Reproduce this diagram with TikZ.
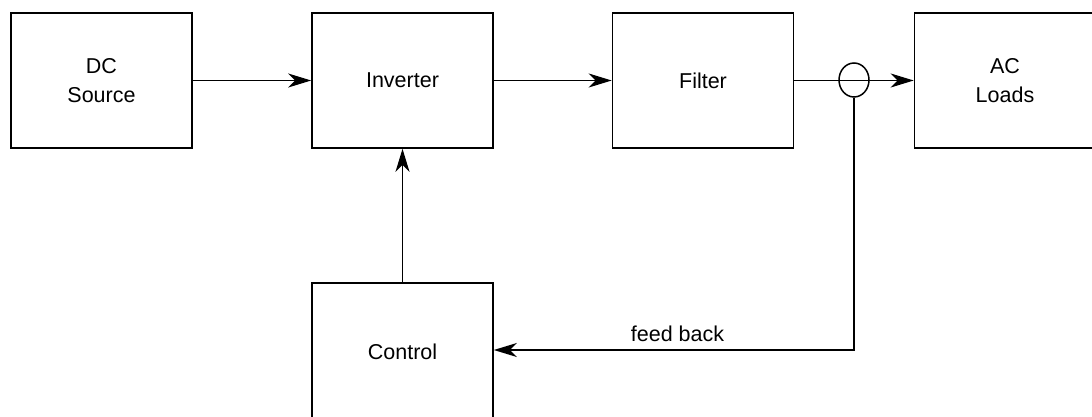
\documentclass[tikz,border=0pt]{standalone}
\usepackage{fontspec}
\setmainfont{Liberation Sans}
\usetikzlibrary{arrows.meta,shapes.geometric}
\begin{document}
\begin{tikzpicture}[x=1pt,y=-1pt,
  blk/.style={draw,line width=1.6pt,minimum width=181pt,minimum height=135pt,inner sep=0pt,align=center,font=\fontsize{21.5}{29}\selectfont},
  conn/.style={line width=1.5pt,-{Stealth[length=23pt,width=14pt,inset=7pt]}}]
\useasboundingbox (0,0) rectangle (1092,417);
\clip (0,0) rectangle (1092,417);
\node[blk] (dc) at (101.5,80.5) {DC\\Source};
\node[blk] (inv) at (402.5,80.5) {Inverter};
\node[blk] (fil) at (703,80.5) {Filter};
\node[blk] (ac) at (1005,80.5) {AC\\Loads};
\node[blk,minimum height=138pt] (ctl) at (402.5,352) {Control};
\node[draw,ellipse,line width=1.5pt,minimum width=30pt,minimum height=34pt,inner sep=0pt] (sens) at (854,80) {};
\coordinate (corner) at (854,350);
\draw[conn] (dc.east) -- (inv.west);
\draw[conn] (inv.east) -- (fil.west);
\draw[conn] (fil.east) -- (ac.west);
\draw[conn] (ctl.north) -- (inv.south);
\draw[conn] (sens.south) -- (corner) -- (ctl.east |- corner)
  node[pos=0.49,above,font=\fontsize{21.5}{24}\selectfont,inner sep=8pt] (fb) {feed back};
\end{tikzpicture}
\end{document}
